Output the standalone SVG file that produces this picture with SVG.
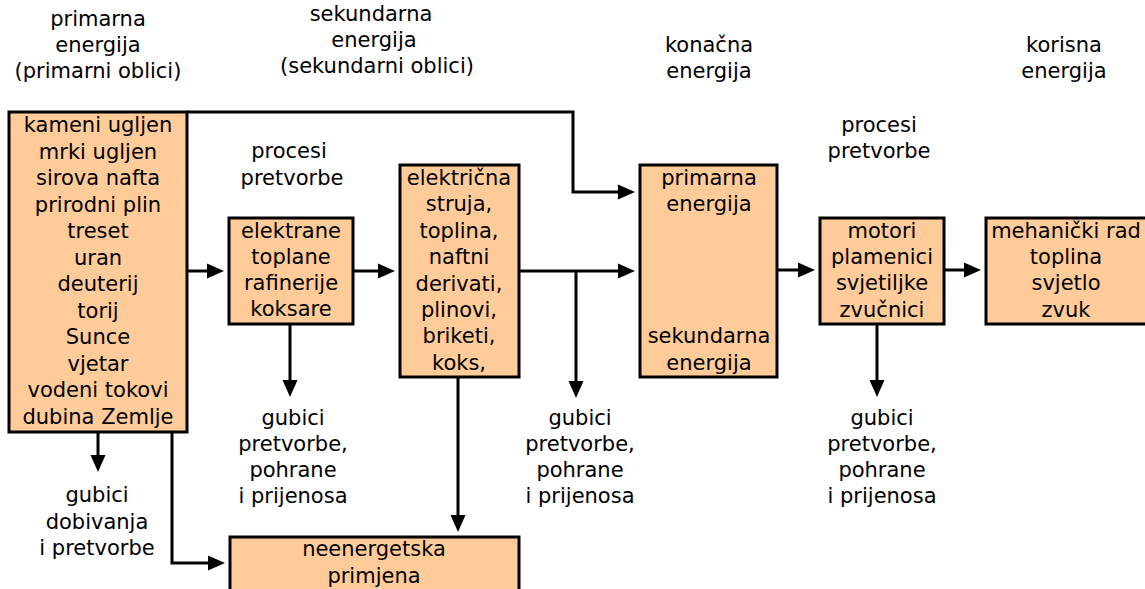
<svg xmlns="http://www.w3.org/2000/svg" width="1145" height="589" viewBox="0 0 1145 589">
<style>
text{font-family:"DejaVu Sans","Liberation Sans",sans-serif;font-size:21px;fill:#000;text-anchor:middle}
.box{fill:#FFCC99;stroke:#000;stroke-width:3}
.c{fill:none;stroke:#000;stroke-width:3}
</style>
<defs>
<marker id="ah" markerWidth="17" markerHeight="16" refX="11" refY="8" orient="auto" markerUnits="userSpaceOnUse">
<path d="M0,0.5 L17,8 L0,15.5 z" fill="#000"/>
</marker>
</defs>
<rect width="1145" height="589" fill="#fff"/>
<g id="headers">
<text x="98" y="26">primarna</text>
<text x="98" y="52">energija</text>
<text x="98" y="78">(primarni oblici)</text>
<text x="371" y="21">sekundarna</text>
<text x="374" y="47">energija</text>
<text x="377" y="73">(sekundarni oblici)</text>
<text x="709" y="52">konačna</text>
<text x="709" y="78">energija</text>
<text x="1064" y="52">korisna</text>
<text x="1064" y="78">energija</text>
<text x="289" y="158">procesi</text>
<text x="292" y="185">pretvorbe</text>
<text x="879" y="132">procesi</text>
<text x="879" y="158">pretvorbe</text>
</g>
<g id="connectors">
<path class="c" d="M187,271 H218" marker-end="url(#ah)"/>
<path class="c" d="M353,271 H389" marker-end="url(#ah)"/>
<path class="c" d="M519,271 H629" marker-end="url(#ah)"/>
<path class="c" d="M576,271 V392" marker-end="url(#ah)"/>
<path class="c" d="M187,112 H573 V192 H629" marker-end="url(#ah)"/>
<path class="c" d="M777,270 H809" marker-end="url(#ah)"/>
<path class="c" d="M944,270 H975" marker-end="url(#ah)"/>
<path class="c" d="M877,324 V391" marker-end="url(#ah)"/>
<path class="c" d="M290,324 V391" marker-end="url(#ah)"/>
<path class="c" d="M98,432 V466" marker-end="url(#ah)"/>
<path class="c" d="M172,432 V563 H219" marker-end="url(#ah)"/>
<path class="c" d="M458,377 V526" marker-end="url(#ah)"/>
</g>
<g id="n-primarni">
<rect class="box" x="9" y="112" width="178" height="320"/>
<text x="98" y="132">kameni ugljen</text>
<text x="98" y="158.5">mrki ugljen</text>
<text x="98" y="185">sirova nafta</text>
<text x="98" y="211.5">prirodni plin</text>
<text x="98" y="238">treset</text>
<text x="98" y="264.5">uran</text>
<text x="98" y="291">deuterij</text>
<text x="98" y="317.5">torij</text>
<text x="98" y="344">Sunce</text>
<text x="98" y="370.5">vjetar</text>
<text x="98" y="397">vodeni tokovi</text>
<text x="98" y="423.5">dubina Zemlje</text>
</g>
<g id="n-procesi1">
<rect class="box" x="229" y="218" width="124" height="106"/>
<text x="291" y="238">elektrane</text>
<text x="291" y="264">toplane</text>
<text x="291" y="290">rafinerije</text>
<text x="291" y="316">koksare</text>
</g>
<g id="n-sekundarni">
<rect class="box" x="400" y="165" width="119" height="212"/>
<text x="459" y="185">električna</text>
<text x="459" y="211.4">struja,</text>
<text x="459" y="237.8">toplina,</text>
<text x="459" y="264.2">naftni</text>
<text x="459" y="290.6">derivati,</text>
<text x="459" y="317">plinovi,</text>
<text x="459" y="343.4">briketi,</text>
<text x="459" y="369.8">koks,</text>
</g>
<g id="n-konacna">
<rect class="box" x="640" y="165" width="137" height="212"/>
<text x="709" y="185">primarna</text>
<text x="709" y="211">energija</text>
<text x="709" y="343">sekundarna</text>
<text x="709" y="370">energija</text>
</g>
<g id="n-procesi2">
<rect class="box" x="820" y="218" width="124" height="106"/>
<text x="882" y="238">motori</text>
<text x="882" y="264">plamenici</text>
<text x="882" y="290">svjetiljke</text>
<text x="882" y="317">zvučnici</text>
</g>
<g id="n-korisna">
<rect class="box" x="986" y="218" width="170" height="106"/>
<text x="1066" y="238">mehanički rad</text>
<text x="1066" y="264">toplina</text>
<text x="1066" y="290">svjetlo</text>
<text x="1066" y="317">zvuk</text>
</g>
<g id="n-neenergetska">
<rect class="box" x="230" y="537" width="289" height="70"/>
<text x="374" y="556">neenergetska</text>
<text x="374" y="583">primjena</text>
</g>
<g id="losses">
<text x="97" y="502">gubici</text>
<text x="97" y="529">dobivanja</text>
<text x="97" y="555">i pretvorbe</text>
<text x="293" y="425">gubici</text>
<text x="293" y="451">pretvorbe,</text>
<text x="293" y="477">pohrane</text>
<text x="293" y="503">i prijenosa</text>
<text x="580" y="425">gubici</text>
<text x="580" y="451">pretvorbe,</text>
<text x="580" y="477">pohrane</text>
<text x="580" y="503">i prijenosa</text>
<text x="882" y="425">gubici</text>
<text x="882" y="451">pretvorbe,</text>
<text x="882" y="477">pohrane</text>
<text x="882" y="503">i prijenosa</text>
</g>
</svg>
